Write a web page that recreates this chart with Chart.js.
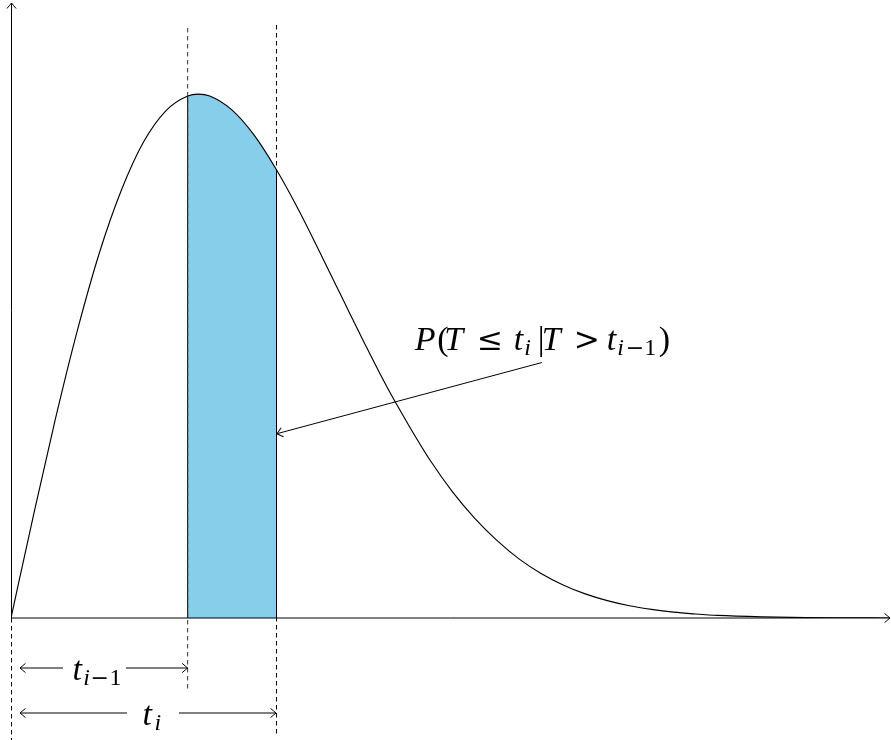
<!DOCTYPE html>
<html>
<head>
<meta charset="utf-8">
<title>Conditional failure probability</title>
<script src="https://cdn.jsdelivr.net/npm/chart.js@4.4.1/dist/chart.umd.min.js"></script>
<style>
  html, body { margin: 0; padding: 0; background: #ffffff; }
  canvas { display: block; }
</style>
</head>
<body>
<canvas id="chart" width="891" height="740"></canvas>
<script>
// Lifetime density f(t), sampled along the time axis
const tValues = [0, 0.25, 0.5, 0.75, 1, 1.25, 1.5, 1.75, 2, 2.12, 2.25, 2.5, 2.75, 3,
  3.25, 3.5, 3.75, 4, 4.25, 4.5, 4.75, 5, 5.25, 5.5, 5.75, 6, 6.25, 6.5, 6.75, 7,
  7.25, 7.5, 7.75, 8, 8.5, 9, 9.5, 10];
const density = [0, 0.0553, 0.1085, 0.1573, 0.2000, 0.2345, 0.2608, 0.2778, 0.2860, 0.2871, 0.2860, 0.2784, 0.2647, 0.2460,
  0.2241, 0.2000, 0.1753, 0.1507, 0.1271, 0.1058, 0.0860, 0.0690, 0.0546, 0.0425, 0.0324, 0.0244, 0.0181, 0.0132, 0.0095, 0.0067,
  0.0047, 0.0032, 0.0022, 0.0014, 0.0006, 0.0002, 0.0001, 0];

// Interval (t_{i-1}, t_i]
const intervalStart = 2;
const intervalEnd = 3;

// Axis extents
const xMax = 9.95;
const yMax = 0.337;

const INK = '#000000';
const SHADE = '#87ceeb';
const SERIF = '"Liberation Serif", "DejaVu Serif", serif';
const SYMBOL = '"DejaVu Serif", "DejaVu Sans", serif';
const SIZE = 34;
const SUB = 24;

// Open, slightly curved arrow tip pointing along +x after rotation
function arrowHead(ctx, x, y, angle) {
  ctx.save();
  ctx.translate(x, y);
  ctx.rotate(angle);
  ctx.beginPath();
  ctx.moveTo(-5.5, -4.6);
  ctx.quadraticCurveTo(-1.6, -1.3, 0, 0);
  ctx.quadraticCurveTo(-1.6, 1.3, -5.5, 4.6);
  ctx.stroke();
  ctx.restore();
}

function line(ctx, x0, y0, x1, y1) {
  ctx.beginPath();
  ctx.moveTo(x0, y0);
  ctx.lineTo(x1, y1);
  ctx.stroke();
}

function dashedV(ctx, x, yTop, yBottom) {
  ctx.save();
  ctx.setLineDash([4.5, 3.5]);
  line(ctx, x, yTop, x, yBottom);
  ctx.restore();
}

// Math text as glyph runs: [text, kind, dx, attached]
// kinds: 'i' italic, 'r' roman, 'm' relation symbol,
// 'si' / 'sr' / 'ms' the same at subscript size (lowered).
// An attached run starts where the previous glyph ends, plus dx.
const FONTS = {
  i:  'italic ' + SIZE + 'px ' + SERIF,
  r:  SIZE + 'px ' + SERIF,
  m:  SIZE * 0.92 + 'px ' + SYMBOL,
  si: 'italic ' + SUB + 'px ' + SERIF,
  sr: SUB + 'px ' + SERIF,
  ms: SUB * 0.92 + 'px ' + SYMBOL
};
function drawMath(ctx, runs, x, baseline) {
  ctx.save();
  ctx.fillStyle = INK;
  ctx.textBaseline = 'alphabetic';
  ctx.textAlign = 'left';
  let end = x;
  for (const [text, kind, dx, attached] of runs) {
    ctx.font = FONTS[kind];
    const sub = kind === 'si' || kind === 'sr' || kind === 'ms';
    const gx = attached ? end + dx : x + dx;
    ctx.fillText(text, gx, baseline + (sub ? 5 : 0));
    end = gx + ctx.measureText(text).width;
  }
  ctx.restore();
}

const calloutText = [
  ['P', 'i', 0], ['(', 'r', 22.5], ['T', 'i', 29.5], ['\u2264', 'm', 62],
  ['t', 'i', 99], ['i', 'si', 1.2, true], ['|', 'r', 123], ['T', 'i', 127], ['>', 'm', 159],
  ['t', 'i', 192], ['i', 'si', 1.2, true], ['\u2212', 'ms', 211], ['1', 'sr', 229.5], [')', 'r', 244]
];
const labelPrev = [['t', 'i', -1.5], ['i', 'si', 1.2, true], ['\u2212', 'ms', 16.6], ['1', 'sr', 35.4]];
const labelCur = [['t', 'i', -0.5], ['i', 'si', 2.5, true]];

// Fills the area under the curve between t_{i-1} and t_i
const intervalShade = {
  id: 'intervalShade',
  beforeDatasetsDraw(chart) {
    const { ctx, chartArea, scales: { x, y } } = chart;
    const curve = chart.getDatasetMeta(0).dataset;
    curve.updateControlPoints(chartArea, 'x');
    const pts = curve.points;
    const xa = x.getPixelForValue(intervalStart);
    const xb = x.getPixelForValue(intervalEnd);
    const y0 = y.getPixelForValue(0);
    ctx.save();
    ctx.beginPath();
    ctx.rect(xa, chartArea.top, xb - xa, y0 - chartArea.top);
    ctx.clip();
    ctx.beginPath();
    curve.path(ctx);
    ctx.lineTo(pts[pts.length - 1].x, y0);
    ctx.lineTo(pts[0].x, y0);
    ctx.closePath();
    ctx.fillStyle = SHADE;
    ctx.fill();
    ctx.restore();
  }
};

// Axes, interval markers, dimension arrows and the callout
const annotations = {
  id: 'annotations',
  afterDatasetsDraw(chart) {
    const { ctx, scales: { x, y } } = chart;
    const meta = chart.getDatasetMeta(0);
    const x0 = x.getPixelForValue(0);
    const y0 = y.getPixelForValue(0);
    const xa = x.getPixelForValue(intervalStart);
    const xb = x.getPixelForValue(intervalEnd);
    const ya = meta.data[tValues.indexOf(intervalStart)].y;
    const yb = meta.data[tValues.indexOf(intervalEnd)].y;
    const xbCrisp = Math.floor(xb) + 0.5;

    ctx.save();
    ctx.strokeStyle = INK;
    ctx.lineWidth = 1;

    // interval edges
    line(ctx, xa, ya, xa, y0);
    line(ctx, xbCrisp, yb, xbCrisp, y0);

    // dashed markers
    ctx.save();
    ctx.strokeStyle = '#333333';
    dashedV(ctx, xa, 28, 692);
    ctx.restore();
    dashedV(ctx, x0 + 0.5, y0, 740);
    dashedV(ctx, xbCrisp, 25, 737);

    // axes
    line(ctx, x0 + 0.5, y0, x0 + 0.5, 3);
    arrowHead(ctx, x0 + 0.5, 3, -Math.PI / 2);
    line(ctx, x0, y0, 890, y0);
    arrowHead(ctx, 890, y0, 0);

    // dimension arrows from the origin to t_{i-1} and t_i
    const rows = [
      { end: xa, yy: 668, gap: [63, 126], label: labelPrev, lx: 74 },
      { end: xb, yy: 713, gap: [127, 179], label: labelCur, lx: 143 }
    ];
    for (const r of rows) {
      const left = x0 + 9;
      line(ctx, left, r.yy, r.gap[0], r.yy);
      line(ctx, r.gap[1], r.yy, r.end, r.yy);
      arrowHead(ctx, left, r.yy, Math.PI);
      arrowHead(ctx, r.end, r.yy, 0);
      drawMath(ctx, r.label, r.lx, r.yy + 12);
    }

    // callout
    const tipX = x.getPixelForValue(intervalEnd) + 1;
    const tipY = y.getPixelForValue(0.101);
    const tailX = x.getPixelForValue(6.01);
    const tailY = y.getPixelForValue(0.140);
    line(ctx, tailX, tailY, tipX, tipY);
    arrowHead(ctx, tipX, tipY, Math.atan2(tipY - tailY, tipX - tailX));
    drawMath(ctx, calloutText, x.getPixelForValue(4.57), y.getPixelForValue(0.147));

    ctx.restore();
  }
};

new Chart(document.getElementById('chart'), {
  type: 'line',
  data: {
    datasets: [{
      data: tValues.map((t, i) => ({ x: t, y: density[i] })),
      borderColor: INK,
      borderWidth: 1.15,
      pointRadius: 0,
      fill: false,
      cubicInterpolationMode: 'monotone'
    }]
  },
  options: {
    responsive: false,
    animation: false,
    events: [],
    layout: { padding: { left: 11, top: 3, right: 1, bottom: 122 } },
    scales: {
      x: { type: 'linear', min: 0, max: xMax, display: false },
      y: { type: 'linear', min: 0, max: yMax, display: false }
    },
    plugins: {
      legend: { display: false },
      tooltip: { enabled: false },
      title: { display: false }
    }
  },
  plugins: [intervalShade, annotations]
});
</script>
</body>
</html>
